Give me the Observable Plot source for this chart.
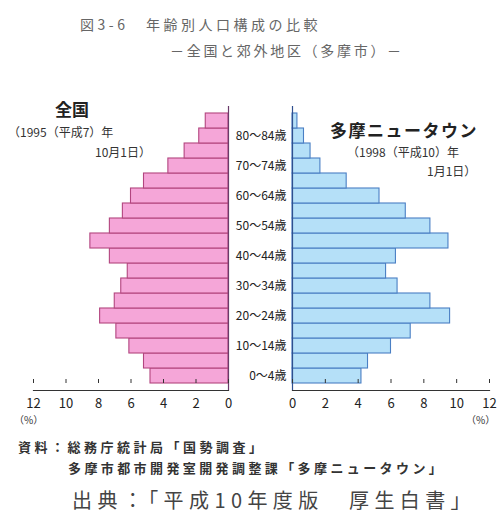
<!DOCTYPE html>
<html lang="ja">
<head>
<meta charset="utf-8">
<script src="https://cdn.jsdelivr.net/npm/d3@7"></script>
<script src="https://cdn.jsdelivr.net/npm/@observablehq/plot@0.6"></script>
<style>
  html, body { margin: 0; padding: 0; background: #fff; }
  #chart { position: relative; width: 499px; height: 513px; overflow: hidden;
           font-family: "Noto Sans CJK JP", "Noto Sans", sans-serif; color: #222; }
  #chart svg { position: absolute; top: 0; }
  .t { position: absolute; white-space: pre; line-height: 1; }
</style>
</head>
<body>
<div id="chart"></div>
<script>
// Age groups, youngest first
const ages = ["0-4", "5-9", "10-14", "15-19", "20-24", "25-29", "30-34", "35-39", "40-44",
              "45-49", "50-54", "55-59", "60-64", "65-69", "70-74", "75-79", "80-84", "85+"];
// Share of population by age group (%)
const japan1995 = [4.8, 5.2, 6.1, 6.9, 7.9, 7.0, 6.6, 6.2, 7.3, 8.5, 7.3, 6.5, 6.0, 5.2, 3.7, 2.7, 1.8, 1.4];
const tama1998  = [4.2, 4.6, 6.0, 7.2, 9.6, 8.4, 6.4, 5.7, 6.3, 9.5, 8.4, 6.9, 5.3, 3.3, 1.7, 1.1, 0.7, 0.3];
// Axis ticks and the age labels shown between the two halves
const xTicks = [0, 2, 4, 6, 8, 10, 12];
const ageLabels = {"0-4": "0～4歳", "10-14": "10～14歳", "20-24": "20～24歳", "30-34": "30～34歳",
                   "40-44": "40～44歳", "50-54": "50～54歳", "60-64": "60～64歳", "70-74": "70～74歳",
                   "80-84": "80～84歳"};

const japanRows = ages.map((age, i) => ({age, value: japan1995[i]}));
const tamaRows = ages.map((age, i) => ({age, value: tama1998[i]}));

const font = "'Noto Sans CJK JP', 'Noto Sans', sans-serif";
const yScale = {domain: ages.slice().reverse(), padding: 0, axis: null, label: null};

// Left half: whole of Japan, bars growing leftwards
const left = Plot.plot({
  width: 240, height: 430,
  marginTop: 106, marginBottom: 40, marginLeft: 33, marginRight: 12,
  x: {domain: [0, 12], reverse: true, label: null},
  y: yScale,
  style: {fontFamily: font, fontSize: "13px", color: "#222", background: "transparent"},
  marks: [
    Plot.barX(japanRows, {x: "value", y: "age", fill: "#f5a6d8", stroke: "#b2457f", strokeWidth: 1.1}),
    Plot.ruleX([0], {stroke: "#6a3a6a", strokeWidth: 1.2}),
    Plot.frame({anchor: "bottom", stroke: "#333", strokeWidth: 1.2}),
    Plot.tickX(xTicks, {x: d => d, y: () => "0-4", insetTop: 11, stroke: "#333"}),
    Plot.axisX(xTicks, {tickSize: 0, tickPadding: 8, fontSize: 13, fill: "#222", label: null})
  ]
});

// Right half: Tama New Town, bars growing rightwards, age labels on its left
const right = Plot.plot({
  width: 269, height: 430,
  marginTop: 106, marginBottom: 40, marginLeft: 62, marginRight: 10,
  x: {domain: [0, 12], label: null},
  y: yScale,
  style: {fontFamily: font, fontSize: "13px", color: "#222", background: "transparent"},
  marks: [
    Plot.barX(tamaRows, {x: "value", y: "age", fill: "#b5e0f8", stroke: "#4a7fc4", strokeWidth: 1.1}),
    Plot.ruleX([0], {stroke: "#2f4f8f", strokeWidth: 1.2}),
    Plot.frame({anchor: "bottom", stroke: "#333", strokeWidth: 1.2}),
    Plot.tickX(xTicks, {x: d => d, y: () => "0-4", insetTop: 11, stroke: "#333"}),
    Plot.axisX(xTicks, {tickSize: 0, tickPadding: 8, fontSize: 13, fill: "#222", label: null}),
    Plot.axisY(Object.keys(ageLabels), {anchor: "left", tickSize: 0, tickPadding: 6, label: null,
      tickFormat: d => ageLabels[d], fontSize: 12, fill: "#222"})
  ]
});

const chart = document.getElementById("chart");
left.style.left = "0px";
right.style.left = "230px";
chart.append(left, right);

// Text blocks: [text, left, top, font size, extra style]
const texts = [
  ["図3-6　年齢別人口構成の比較", 80, 17, 14, "color:#666;letter-spacing:3.5px;"],
  ["－全国と郊外地区（多摩市）－", 170, 43, 14, "color:#666;letter-spacing:2.7px;"],
  ["全国", 55, 100, 17, "font-weight:bold;color:#222;"],
  ["（1995（平成7）年", 8, 126, 12, "color:#333;"],
  ["10月1日）", 95, 146, 12, "color:#333;"],
  ["多摩ニュータウン", 330, 121, 17, "font-weight:bold;color:#222;letter-spacing:1.5px;"],
  ["（1998（平成10）年", 347, 146, 12, "color:#333;"],
  ["1月1日）", 427, 165, 12, "color:#333;"],
  ["（%）", 14, 415, 10, "color:#333;"],
  ["（%）", 466, 415, 10, "color:#333;"],
  ["資料：総務庁統計局「国勢調査」", 18, 440, 13, "font-weight:bold;color:#333;letter-spacing:3.5px;"],
  ["多摩市都市開発室開発調整課「多摩ニュータウン」", 68, 461, 13, "font-weight:bold;color:#333;letter-spacing:3.4px;"],
  ["出典：「平成10年度版　厚生白書」", 72, 490, 20, "color:#444;letter-spacing:5.4px;"]
];
for (const [s, x, y, size, extra] of texts) {
  const d = document.createElement("div");
  d.className = "t";
  d.textContent = s;
  d.style.cssText = `left:${x}px;top:${y}px;font-size:${size}px;${extra}`;
  chart.append(d);
}
</script>
</body>
</html>
